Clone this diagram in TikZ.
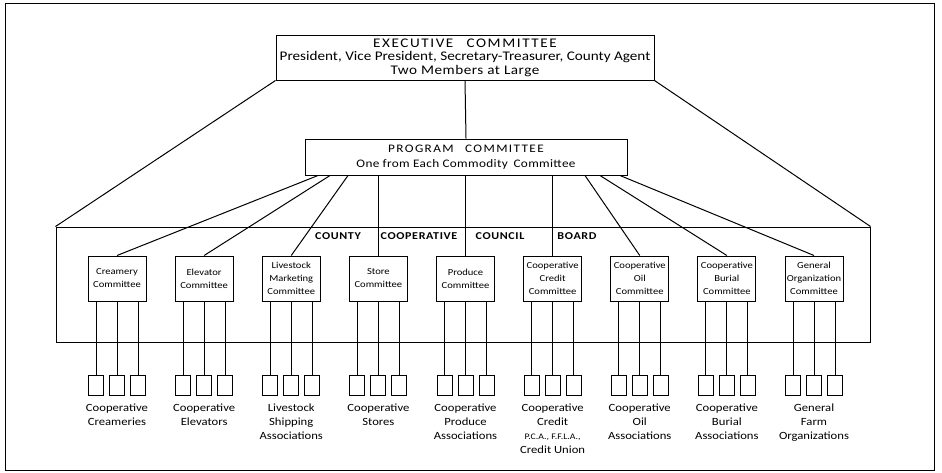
\documentclass[tikz,border=0pt]{standalone}
\usepackage{fontspec}
\setmainfont{Carlito}[FakeStretch=1.15]
\usetikzlibrary{calc}
\tikzset{
  comite/.style={draw, minimum width=58pt, minimum height=45pt, inner sep=1pt, align=center, font=\fontsize{9.2}{13}\selectfont},
  assoc/.style={draw, minimum width=15pt, minimum height=20pt, inner sep=0pt},
  rotulo/.style={anchor=north, inner sep=0pt, align=center, font=\fontsize{11}{14}\selectfont},
  conselho/.style={font=\bfseries\fontsize{10.5}{12}\selectfont\addfontfeature{LetterSpace=6}}
}
\begin{document}
\begin{tikzpicture}[x=1pt, y=-1pt, line width=1pt]
    \useasboundingbox (0,0) rectangle (942,472);
    % Moldura
    \draw (5,3) rectangle (934,470);
    % Executivo
    \node[draw, minimum width=378pt, minimum height=45pt, inner sep=1pt, align=center, font=\fontsize{13.2}{13.5}\selectfont] (exec) at (465,57.5)
      {{\addfontfeature{LetterSpace=12}EXECUTIVE\quad COMMITTEE}\\President, Vice President, Secretary-Treasurer, County Agent\\{\addfontfeature{LetterSpace=4}Two Members at Large}};
    % Programa
    \node[draw, minimum width=322pt, minimum height=36pt, inner sep=1pt, align=center, font=\fontsize{11.5}{15}\selectfont] (prog) at (466,157)
      {{\addfontfeature{LetterSpace=12}PROGRAM\quad COMMITTEE}\\{\addfontfeature{LetterSpace=3}One from Each Commodity\enspace Committee}};
    % Conselho
    \node[draw, minimum width=814pt, minimum height=115pt] (board) at (463,284.5) {};
    \draw (exec.south west) -- (board.north west);
    \draw (exec.south east) -- (board.north east);
    \draw (exec.south) -- (prog.north);
    \node[conselho] (w1) at (338,236) {COUNTY};
    \node[conselho] (w2) at (419,236) {COOPERATIVE};
    \node[conselho] (w3) at (500,236) {COUNCIL};
    \node[conselho] (w4) at (577,236) {BOARD};
    % Comites e associacoes
    \foreach \i/\cname/\aname in {
      1/{Creamery\\Committee}/{Cooperative\\Creameries},
      2/{Elevator\\Committee}/{Cooperative\\Elevators},
      3/{Livestock\\Marketing\\Committee}/{Livestock\\Shipping\\Associations},
      4/{Store\\Committee}/{Cooperative\\Stores},
      5/{Produce\\Committee}/{Cooperative\\Produce\\Associations},
      6/{Cooperative\\Credit\\Committee}/{Cooperative\\Credit\\\fontsize{8.5}{10.5}\selectfont P.C.A., F.F.L.A.,\\Credit Union},
      7/{Cooperative\\Oil\\Committee}/{Cooperative\\Oil\\Associations},
      8/{Cooperative\\Burial\\Committee}/{Cooperative\\Burial\\Associations},
      9/{General\\Organization\\Committee}/{General\\Farm\\Organizations}}{
      \pgfmathsetmacro\xc{117+87.125*(\i-1)}
      \node[comite] (c\i) at (\xc,278.5) {\cname};
      \foreach \j/\dx in {1/-21,2/0,3/21}{
        \node[assoc] (a\i-\j) at (\xc+\dx,385) {};
        \draw (a\i-\j.north |- c\i.south) -- (a\i-\j.north);
      }
      \node[rotulo] (r\i) at (\xc,403) {\aname};
    }
    % Ligacoes do programa
    \foreach \i/\dx in {1/-148,2/-136,3/-118,7/119,8/134,9/154}
      \draw ($(prog.south)+(\dx,0)$) -- (c\i.north);
    \foreach \i in {4,5,6}
      \draw (c\i.north |- prog.south) -- (c\i.north);
\end{tikzpicture}
\end{document}
